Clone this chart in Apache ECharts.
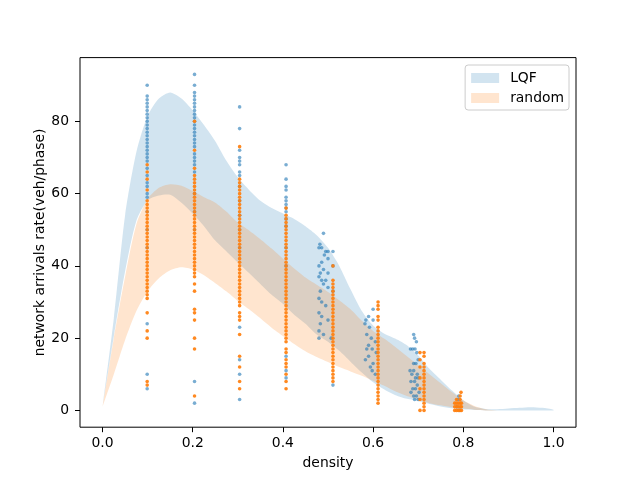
<!DOCTYPE html>
<html>
<head>
<meta charset="utf-8">
<script src="https://cdn.jsdelivr.net/npm/echarts@6/dist/echarts.min.js"></script>
<style>
html,body{margin:0;padding:0;background:#fff;}
#c{width:640px;height:480px;}
</style>
</head>
<body>
<div id="c"></div>
<script>
// ---- tick labels ----
const xTickValues = [0, 0.2, 0.4, 0.6, 0.8, 1.0];
const yTickValues = [0, 20, 40, 60, 80];

// ---- smoothed bands (density grid) ----
const bandDensity = [0,0.025,0.05,0.075,0.1,0.125,0.15,0.175,0.2,0.225,0.25,0.275,0.3,0.325,0.35,0.375,0.4,0.425,0.45,0.475,0.5,0.525,0.55,0.575,0.6,0.625,0.65,0.675,0.7,0.725,0.75,0.775,0.8,0.825,0.85,0.875,0.9,0.925,0.95,0.975,1.0];
const lqfUpper = [0.9,25.5,54,71.5,81.5,86.3,88,86.3,83,79,74.5,69,64.5,61,58,56,54.5,53,51,48.5,45,40,33.5,27.5,23.5,21.2,19.8,18,15.2,11.5,8.5,5.5,2.8,1,0.4,0.3,0.5,0.7,0.9,0.7,0.2];
const lqfLower = [0.9,20.5,38.5,52.5,58.2,59.5,59.7,57.5,54.5,51,47,44,41,38,35,32,29.5,26.5,24,21,19,16.5,13.5,10.5,7.8,5.8,4.2,3.2,2.6,1.8,1.1,0.6,0.3,0.1,0,0,0,0,0,0,0];
const randomUpper = [1,20,37,51.5,58.5,61.6,62.6,62.2,60.7,59,57.5,55,52,49.8,47.4,44.8,42,39.3,36.8,34.8,32.8,30.5,28,24.8,22,19.8,17.5,15,12.5,10,7.5,5,2.8,1.2,0.3,0,0,0,0,0,0];
const randomLower = [1,10,19.5,27.5,33,36.6,38.8,39.6,39,37.4,35.2,32.9,30.3,28,25.5,22.9,20.6,18.4,16.4,14.8,13.4,12,10.8,9.6,8.2,6.8,5.2,4,3,2,1.4,0.9,0.5,0.2,0,0,0,0,0,0,0];

// ---- LQF samples ----
const lqfColumnDensity = [0.099, 0.204, 0.304, 0.407];
const lqfColumnRates = [
  [90,87,86,85,84,83,82,81,80,79,78,77,76,75,74,73,72,71,70,69,67,65,63,62,60,59,55,50,45,24,10,6],
  [93,90,88,87,86,85,84,83,82,81,80,79,78,77,76,75,74,73,71,70,69,68,66,60,55,50,8,2],
  [84,78,72,70,69,68,66,65,62,58,54,50,45,23,14,10,3],
  [68,64,62,61,59,58,57,56,55,53,51,45,40,15,11,9]
];
const lqfSpreadPoints = [
  [0.49,49],[0.482,46],[0.486,45],[0.48,45],[0.495,44],[0.5,44],[0.511,44],[0.492,43],[0.5,42],[0.486,41],
  [0.48,40],[0.511,40],[0.49,39],[0.483,38],[0.5,38],[0.48,37],[0.486,36],[0.495,36],[0.49,35],[0.5,34],
  [0.483,33],[0.511,33],[0.48,31],[0.486,30],[0.495,29],[0.48,27],[0.486,26],[0.5,25],[0.483,24],[0.48,22],
  [0.49,21],[0.48,20],[0.507,20],[0.511,7],
  [0.6,28],[0.59,26],[0.584,25],[0.6,25],[0.582,24],[0.592,23],[0.586,21],[0.596,20],[0.605,19],[0.59,18],
  [0.586,17],[0.598,17],[0.607,16],[0.59,15],[0.583,14],[0.6,13],[0.594,12],[0.598,11],[0.605,10],
  [0.69,21],[0.692,20],[0.696,19],[0.683,17],[0.688,17],[0.693,17],[0.697,16],[0.7,14],[0.69,13],[0.695,13],
  [0.682,11],[0.69,11],[0.698,10],[0.686,10],[0.694,9],[0.7,9],[0.684,8],[0.692,8],[0.698,7],[0.688,6],
  [0.694,6],[0.702,5],[0.684,5],[0.69,4],[0.696,4],[0.7,3],[0.692,3],
  [0.79,4],[0.788,3],[0.786,1],[0.792,0]
];

// ---- random samples ----
const randomColumnDensity = [0.099, 0.204, 0.304, 0.407, 0.511, 0.611, 0.713];
const randomColumnRates = [
  [68,66,64,61,58,57,56,55,54,53,52,51,50,49,48,47,46,45,44,43,42,41,40,39,38,37,36,35,34,33,32,31,27,22,20,8,7],
  [80,72,67,65,64,63,62,61,60,59,58,57,56,55,54,53,52,51,50,49,48,47,46,45,44,43,42,41,40,39,38,37,35,33,28,27,25,20,17,4],
  [73,64,63,62,61,60,59,58,57,56,55,54,53,52,51,50,49,48,47,46,45,44,43,42,41,40,39,38,37,36,35,34,33,32,31,30,29,27,26,25,21,15,12,8,6],
  [56,54,53,52,51,50,49,48,47,46,45,44,43,42,41,40,39,38,37,36,35,34,33,32,31,30,29,28,27,26,25,24,23,22,21,20,19,17,16,14,13,12,10,8,6],
  [40,36,35,34,33,32,31,30,29,28,27,26,25,24,23,22,21,20,19,18,17,16,15,14,13,12,11,10,9,8],
  [30,29,28,26,25,23,22,21,20,19,18,17,16,15,14,13,12,11,10,9,8,7,6,5,4,3,2],
  [16,15,13,12,11,10,9,8,7,6,5,4,3,2,1,0]
];
const randomExtraPoints = [
  [0.704,16],[0.704,14],[0.704,12],[0.704,9],[0.704,6],[0.704,3],[0.704,0],
  [0.781,0],[0.785,0],[0.789,0],[0.793,0],[0.796,0],
  [0.781,1],[0.785,1],[0.789,1],[0.793,1],[0.796,1],
  [0.781,2],[0.785,2],[0.789,2],[0.793,2],[0.796,2],
  [0.785,3],[0.793,3],[0.793,4],[0.795,5]
];

const FONT = 'DejaVu Sans';
const FS = 13.9;
const BLUE = '#1f77b4';
const ORANGE = '#ff7f0e';
const BLUE_FILL = 'rgba(31,119,180,0.2)';
const ORANGE_FILL = 'rgba(255,127,14,0.2)';

function columnPoints(xs, rows){
  const out = [];
  xs.forEach((x,i)=>rows[i].forEach(y=>out.push([x,y])));
  return out;
}
const lqfPoints = columnPoints(lqfColumnDensity, lqfColumnRates).concat(lqfSpreadPoints);
const randomPoints = columnPoints(randomColumnDensity, randomColumnRates).concat(randomExtraPoints);

function bandSeries(name, upper, lower, fill, z){
  return {
    name: name, type: 'custom', coordinateSystem: 'cartesian2d', silent: true, z: z,
    itemStyle: {color: fill},
    data: [[bandDensity[0], lower[0]]],
    encode: {x: 0, y: 1},
    renderItem: function(params, api){
      const top = bandDensity.map((x,i)=>api.coord([x, upper[i]]));
      const bottom = bandDensity.map((x,i)=>api.coord([x, lower[i]])).reverse();
      return {
        type: 'polygon',
        shape: {points: top.concat(bottom), smooth: 0.25},
        style: {fill: fill, stroke: null}
      };
    }
  };
}

const chart = echarts.init(document.getElementById('c'), null, {renderer:'canvas'});
const option = {
  animation: false,
  backgroundColor: '#fff',
  grid: {left: 80, top: 57.6, width: 496, height: 369.6, show: true, borderColor: '#000', borderWidth: 1, backgroundColor: 'transparent'},
  xAxis: {
    type: 'value', min: -0.05, max: 1.05,
    splitLine: {show: false},
    axisLine: {show: false, onZero: false},
    axisTick: {show: true, inside: false, length: 5, customValues: xTickValues, lineStyle: {color: '#000', width: 1}},
    axisLabel: {customValues: xTickValues, formatter: v => v.toFixed(1), margin: 9, fontFamily: FONT, fontSize: FS, color: '#000'},
    name: 'density', nameLocation: 'middle', nameGap: 29, nameMoveOverlap: false,
    nameTextStyle: {fontFamily: FONT, fontSize: FS, color: '#000'}
  },
  yAxis: {
    type: 'value', min: -4.65, max: 97.65,
    splitLine: {show: false},
    axisLine: {show: false, onZero: false},
    axisTick: {show: true, inside: false, length: 5, customValues: yTickValues, lineStyle: {color: '#000', width: 1}},
    axisLabel: {customValues: yTickValues, formatter: v => String(v), margin: 11, fontFamily: FONT, fontSize: FS, color: '#000'},
    name: 'network arrivals rate(veh/phase)', nameLocation: 'middle', nameGap: 33, nameMoveOverlap: false,
    nameTextStyle: {fontFamily: FONT, fontSize: FS, color: '#000'}
  },
  legend: {
    orient: 'vertical', right: 71, top: 65,
    itemWidth: 28, itemHeight: 10, itemGap: 6,
    padding: [6, 5, 5, 6],
    backgroundColor: 'rgba(255,255,255,0.8)', borderColor: '#cccccc', borderWidth: 1, borderRadius: 3,
    textStyle: {fontFamily: FONT, fontSize: FS, color: '#000', padding: [0, 0, 0, 6]},
    data: [
      {name: 'LQF', icon: 'rect', itemStyle: {color: BLUE_FILL}},
      {name: 'random', icon: 'rect', itemStyle: {color: ORANGE_FILL}}
    ]
  },
  series: [
    bandSeries('LQF', lqfUpper, lqfLower, BLUE_FILL, 1),
    bandSeries('random', randomUpper, randomLower, ORANGE_FILL, 2),
    {name: 'LQF samples', type: 'scatter', data: lqfPoints, symbol: 'circle', symbolSize: 3.6,
     itemStyle: {color: BLUE, opacity: 0.6}, z: 3},
    {name: 'random samples', type: 'scatter', data: randomPoints, symbol: 'circle', symbolSize: 3.6,
     itemStyle: {color: ORANGE, opacity: 0.92}, z: 4}
  ]
};
chart.setOption(option);
</script>
</body>
</html>
